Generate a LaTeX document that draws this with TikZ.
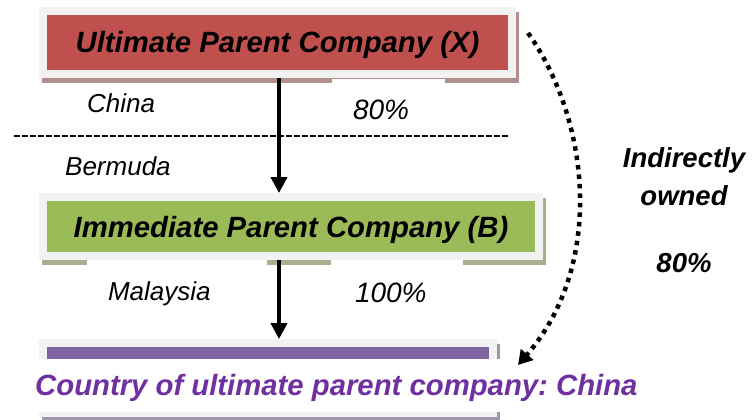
\documentclass[tikz,border=0pt]{standalone}
\usepackage{fontspec}
\setmainfont{Liberation Sans}
\frenchspacing
\usetikzlibrary{arrows.meta, shapes, positioning, shadows}
\definecolor{framegray}{HTML}{F2F2F2}
\definecolor{upcred}{HTML}{C0504D}
\definecolor{upcshade}{HTML}{B18F8F}
\definecolor{ipcgreen}{HTML}{9BBB59}
\definecolor{ipcshade}{HTML}{A8B090}
\definecolor{subpurple}{HTML}{8064A2}
\definecolor{subshade}{HTML}{A098AA}
\definecolor{countrytext}{HTML}{7030A0}

\begin{document}
\begin{tikzpicture}[x=1pt, y=-1pt,
    company/.style={draw=framegray, line width=8pt, outer sep=4pt, inner sep=0pt, anchor=north west,
      text height=21pt, text depth=0pt, font=\fontsize{29.3}{35}\selectfont\bfseries\itshape},
    boxshadow/.style={drop shadow={shadow xshift=3pt, shadow yshift=-5pt, opacity=1, fill=#1, draw=#1, line width=8pt}},
    placename/.style={anchor=base west, inner sep=0pt, font=\fontsize{26}{31}\selectfont\itshape},
    percent/.style={anchor=base west, inner sep=0pt, font=\fontsize{28}{33}\selectfont\itshape},
    sharebox/.style={fill=white, inner ysep=0pt, outer sep=0pt, align=left, text depth=8pt},
    indirect/.style={anchor=base, inner sep=0pt, font=\fontsize{27.5}{33}\selectfont\bfseries\itshape},
    link/.style={-{Triangle[width=16pt, length=16pt]}, line width=4.5pt},
  ]
    \useasboundingbox (0,0) rectangle (753,420);

    % nodes %
      \node[company, fill=upcred, minimum width=469pt, minimum height=63pt, boxshadow=upcshade] (upc) at (39,7) {Ultimate Parent Company (X)\hspace{14pt}};
      \node[company, fill=ipcgreen, minimum width=496pt, minimum height=59pt, boxshadow=ipcshade] (ipc) at (39,193) {Immediate Parent Company (B)};
      \node[company, fill=subpurple, minimum width=450pt, minimum height=70pt, boxshadow=subshade] (sub) at (39,339) {};

      \node[placename] (cn) at (87,113) {China};
      \node[placename] (bm) at (65,175) {Bermuda};
      \node[placename, sharebox, inner xsep=21pt, text width=138pt, text height=40pt] (my) at (87,300) {Malaysia};
      \node[percent, sharebox, inner xsep=21pt, text width=71pt, text height=41pt] (p80) at (332,120) {80\%};
      \node[percent, sharebox, inner xsep=24pt, text width=84pt, text height=42pt] (p100) at (331,302) {100\%};

      \node[indirect] (ind) at (684,167) {Indirectly};
      \node[indirect] (own) at (684,205) {owned};
      \node[indirect] (indpct) at (684,272) {80\%};

      \node[anchor=base west, fill=white, inner xsep=10pt, inner ysep=0pt, text height=36pt, text depth=17pt,
        text=countrytext, font=\fontsize{29.3}{35}\selectfont\bfseries\itshape] (cty) at (25,395) {Country of ultimate parent company: China};

      \coordinate (spine) at (279,0);
      \coordinate (sepL) at (14,136);
      \coordinate (sepR) at (509,136);
      \coordinate (ownS) at (528,33);
      \coordinate (ownE) at (518,365);

      % edges %
      \draw[dash pattern=on 5.5pt off 2.5pt, line width=2pt] (sepL) -- (sepR);
      \draw[link] (upc.south -| spine) -- (ipc.north -| spine);
      \draw[link] (ipc.south -| spine) -- (sub.north -| spine);
      \draw[line width=4.5pt, dash pattern=on 4.5pt off 5pt, -{Triangle[width=16pt, length=14pt]}] (ownS) .. controls (590,120) and (605,265) .. (ownE);
    \end{tikzpicture}
\end{document}
